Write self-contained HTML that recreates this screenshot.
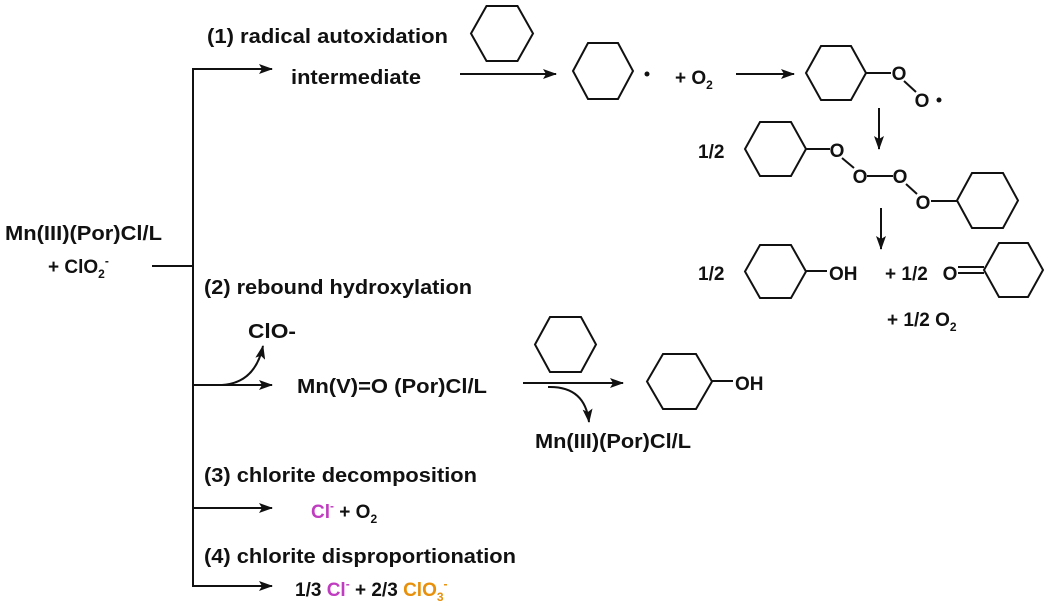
<!DOCTYPE html>
<html><head><meta charset="utf-8"><style>
html,body{margin:0;padding:0;background:#fff;}
svg{display:block;}
text{font-family:"Liberation Sans",Arial,sans-serif;font-weight:bold;font-size:19px;fill:#111;}
.b{font-size:20px;}
.s{font-size:12px;}
</style></head><body>
<svg width="1050" height="606" viewBox="0 0 1050 606" xmlns="http://www.w3.org/2000/svg">
<defs>
<marker id="ah" viewBox="0 0 14 10" refX="13" refY="5" markerWidth="14" markerHeight="10" markerUnits="userSpaceOnUse" orient="auto">
<path d="M0,0 L14,5 L0,10 L3,5 Z" fill="#111"/></marker>
</defs>
<g stroke="#111" stroke-width="2" fill="none">
<polyline points="270,69 193,69 193,586 270,586" />
<line x1="193" y1="69" x2="272" y2="69" marker-end="url(#ah)"/>
<line x1="193" y1="586" x2="272" y2="586" marker-end="url(#ah)"/>
<line x1="152" y1="266" x2="193" y2="266"/>
<line x1="193" y1="385" x2="272" y2="385" marker-end="url(#ah)"/>
<path d="M222,385 Q255,383 263,346" marker-end="url(#ah)"/>
<line x1="193" y1="508" x2="272" y2="508" marker-end="url(#ah)"/>
<line x1="460" y1="74" x2="556" y2="74" marker-end="url(#ah)"/>
<line x1="736" y1="74" x2="794" y2="74" marker-end="url(#ah)"/>
<line x1="879" y1="108" x2="879" y2="149" marker-end="url(#ah)"/>
<line x1="881" y1="208" x2="881" y2="249" marker-end="url(#ah)"/>
<line x1="523" y1="383" x2="623" y2="383" marker-end="url(#ah)"/>
<path d="M548,387 Q585,386 589,422" marker-end="url(#ah)"/>
<polygon points="471,33.5 486.5,6 517.5,6 533,33.5 517.5,61 486.5,61"/>
<polygon points="573,71 588,43 618,43 633,71 618,99 588,99"/>
<polygon points="806,73 821,46 851,46 866,73 851,100 821,100"/>
<polygon points="745,149 760,122 791,122 806,149 791,176 760,176"/>
<polygon points="957,200.5 972,173 1003,173 1018,200.5 1003,228 972,228"/>
<polygon points="745,271.5 760,245 791,245 806,271.5 791,298 760,298"/>
<polygon points="984,270 999,243 1028,243 1043,270 1028,297 999,297"/>
<polygon points="535,344.5 550,317 581,317 596,344.5 581,372 550,372"/>
<polygon points="647,381.5 663,354 696,354 712,381.5 696,409 663,409"/>
<line x1="866" y1="73" x2="891" y2="73"/>
<line x1="904" y1="81" x2="916" y2="92"/>
<line x1="806" y1="149" x2="830" y2="149"/>
<line x1="842" y1="158" x2="854" y2="168"/>
<line x1="867" y1="176" x2="893" y2="176"/>
<line x1="906" y1="184" x2="917" y2="194"/>
<line x1="931" y1="201" x2="957" y2="201"/>
<line x1="806" y1="271" x2="827" y2="271"/>
<line x1="958" y1="267" x2="984" y2="267"/>
<line x1="958" y1="273" x2="984" y2="273"/>
<line x1="712" y1="381" x2="733" y2="381"/>
</g>
<circle cx="647" cy="74" r="2.5" fill="#111"/>
<circle cx="939" cy="100" r="2.5" fill="#111"/>

<text class="b" x="207" y="43" textLength="241" lengthAdjust="spacingAndGlyphs">(1) radical autoxidation</text>
<text class="b" x="291" y="84" textLength="130" lengthAdjust="spacingAndGlyphs">intermediate</text>
<text class="b" x="5" y="240" textLength="157" lengthAdjust="spacingAndGlyphs">Mn(III)(Por)Cl/L</text>
<text x="48" y="273">+ ClO<tspan class="s" dy="5">2</tspan><tspan class="s" dy="-13">-</tspan></text>
<text class="b" x="204" y="294" textLength="268" lengthAdjust="spacingAndGlyphs">(2) rebound hydroxylation</text>
<text class="b" x="248" y="338" textLength="48" lengthAdjust="spacingAndGlyphs">ClO-</text>
<text class="b" x="297" y="393" textLength="190" lengthAdjust="spacingAndGlyphs">Mn(V)=O (Por)Cl/L</text>
<text class="b" x="535" y="448" textLength="156" lengthAdjust="spacingAndGlyphs">Mn(III)(Por)Cl/L</text>
<text x="735" y="390">OH</text>
<text class="b" x="204" y="482" textLength="273" lengthAdjust="spacingAndGlyphs">(3) chlorite decomposition</text>
<text x="311" y="518"><tspan style="fill:#c03cc0">Cl</tspan><tspan class="s" dy="-8" style="fill:#c03cc0">-</tspan><tspan dy="8"> + O</tspan><tspan class="s" dy="5">2</tspan></text>
<text class="b" x="204" y="563" textLength="312" lengthAdjust="spacingAndGlyphs">(4) chlorite disproportionation</text>
<text x="295" y="596">1/3 <tspan style="fill:#c03cc0">Cl</tspan><tspan class="s" dy="-8" style="fill:#c03cc0">-</tspan><tspan dy="8"> + 2/3 </tspan><tspan style="fill:#e8900a">ClO</tspan><tspan class="s" dy="5" style="fill:#e8900a">3</tspan><tspan class="s" dy="-13" style="fill:#e8900a">-</tspan></text>

<text x="675" y="84">+ O<tspan class="s" dy="5">2</tspan></text>
<text x="899" y="80" text-anchor="middle">O</text>
<text x="922" y="107" text-anchor="middle">O</text>
<text x="698" y="158">1/2</text>
<text x="837" y="157" text-anchor="middle">O</text>
<text x="860" y="183" text-anchor="middle">O</text>
<text x="900" y="183" text-anchor="middle">O</text>
<text x="923" y="209" text-anchor="middle">O</text>
<text x="698" y="280">1/2</text>
<text x="829" y="280">OH</text>
<text x="885" y="280">+ 1/2</text>
<text x="950" y="280" text-anchor="middle">O</text>
<text x="887" y="326">+ 1/2 O<tspan class="s" dy="5">2</tspan></text>
</svg>
</body></html>
